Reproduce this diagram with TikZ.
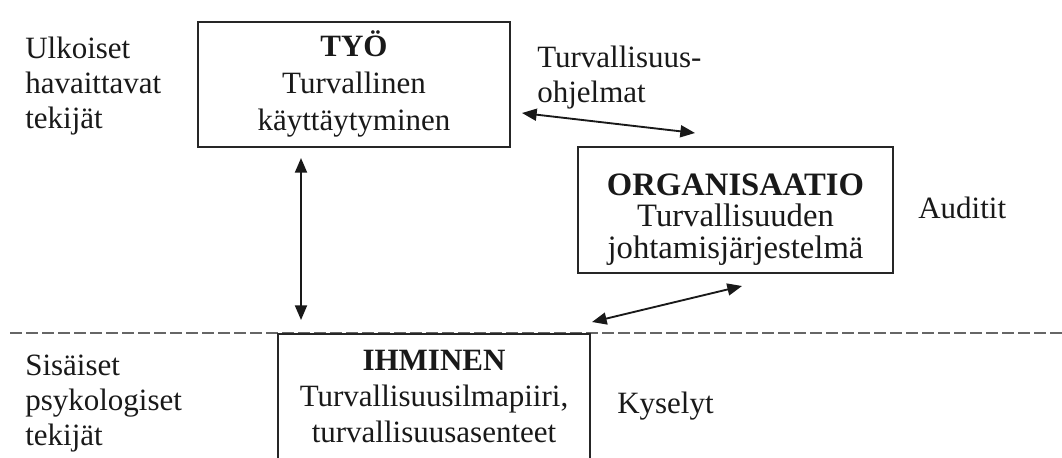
\documentclass[tikz,border=0pt]{standalone}
\usepackage{fontspec}
\setmainfont{Liberation Serif}
\usepackage{tikz}
\usetikzlibrary{arrows.meta, positioning}

\begin{document}
\begin{tikzpicture}[
    x=0.75pt, y=-0.75pt,
    box/.style={rectangle, draw=black!85, line width=1.2pt, align=center, inner sep=0pt, minimum width=#1, text=black!90},
    box/.default={234pt},
    side/.style={align=left, anchor=base west, inner sep=0pt, text=black!90, font=\fontsize{23.25pt}{26.2pt}\selectfont},
    twoway/.style={{Triangle[length=11pt, width=9pt]}-{Triangle[length=11pt, width=9pt]}, line width=1.4pt, color=black!90},
    divider/.style={dash pattern=on 9pt off 3pt, draw=black!60, line width=1.2pt},
]
\useasboundingbox (0,0) rectangle (1062,457);

% -- Divider between outer and inner factors --
\coordinate (divl) at (10,333);
\coordinate (divr) at (1062,333);
\draw[divider] (divl) -- (divr);

% -- Boxes --
\node[box, minimum height=93.75pt, text height=72.75pt, text depth=4.5pt,
      font=\fontsize{23.25pt}{27.4pt}\selectfont] (tyo) at (354,84.5)
      {\textbf{TYÖ}\\Turvallinen\\käyttäytyminen};
\node[box=236pt, minimum height=94.5pt, text height=78pt, text depth=6pt,
      font=\fontsize{24.5pt}{23.6pt}\selectfont] (org) at (735.5,210)
      {\textbf{ORGANISAATIO}\\Turvallisuuden\\johtamisjärjestelmä};
\node[box, anchor=north, text height=81.75pt, text depth=22.5pt,
      font=\fontsize{23.25pt}{27pt}\selectfont] (ihminen) at (434,333)
      {\textbf{IHMINEN}\\Turvallisuusilmapiiri,\\turvallisuusasenteet};

% -- Side labels (placed at last baseline) --
\node[side] (ulko) at (25,128) {Ulkoiset\\havaittavat\\tekijät};
\node[side] (sisa) at (25,445) {Sisäiset\\psykologiset\\tekijät};
\node[side] (ohjelmat) at (537,102) {Turvallisuus-\\ohjelmat};
\node[side] (auditit) at (918,218) {Auditit};
\node[side] (kyselyt) at (617,413) {Kyselyt};

% -- Arrow ends --
\coordinate (tyoR) at (522,113);
\coordinate (orgL) at (695,133);
\coordinate (orgB) at (742,286);
\coordinate (ihmR) at (592,322);
\coordinate (tyoB) at (301,158);
\coordinate (ihmT) at (301,320);

% -- Arrows --
\draw[twoway] (tyoR) -- (orgL);
\draw[twoway] (ihmR) -- (orgB);
\draw[twoway] (tyoB) -- (ihmT);

\end{tikzpicture}
\end{document}
